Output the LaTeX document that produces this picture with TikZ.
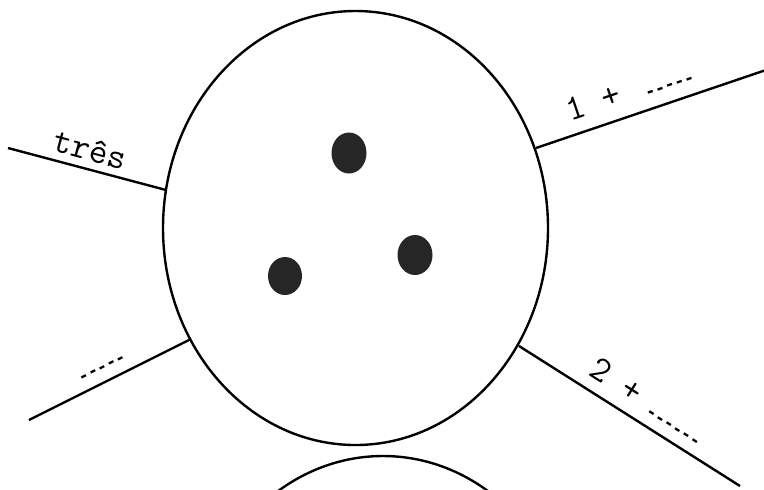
\documentclass[tikz,border=0pt]{standalone}
\usepackage{fontspec}
\usepackage{tikz}

\newfontfamily\riscos{DejaVu Sans Mono}
\newcommand{\pontos}[1]{\raisebox{-1.5pt}{\fontsize{8.5}{10}\riscos\bfseries #1}}

\begin{document}
\begin{tikzpicture}[x=0.5pt, y=-0.5pt, line width=1.2pt,
  typed/.style={font=\fontsize{18}{20}\ttfamily, sloped, above, text=black},
  blot/.style={fill=black!85}]
\clip (0,0) rectangle (764,489);
\draw (355.5,228) ellipse (192.5 and 217);
\draw (383,673) ellipse (192.5 and 217);
\fill[blot] (349,153) ellipse (17.5 and 20.5);
\fill[blot] (415,255) ellipse (17.5 and 20);
\fill[blot] (285,276) ellipse (17 and 19);
\coordinate (tresA) at (8,148);   \coordinate (tresB) at (166,190);
\coordinate (umA) at (536,148);   \coordinate (umB) at (766,70);
\coordinate (baixoA) at (29,420); \coordinate (baixoB) at (191,339);
\coordinate (doisA) at (519,346); \coordinate (doisB) at (740,486);
\draw (tresA) -- (tresB) node[typed, pos=0.49, inner sep=3.5pt] {três};
\draw (umA) -- (umB) node[typed, pos=0.44, inner sep=5pt] {1 +\hspace{12pt}\pontos{-----}};
\draw (baixoA) -- (baixoB) node[typed, pos=0.49, inner sep=4pt] {\pontos{-----}};
\draw (doisA) -- (doisB) node[typed, pos=0.53, inner sep=4pt] {2 +\hspace{7pt}\pontos{------}};
\end{tikzpicture}
\end{document}
